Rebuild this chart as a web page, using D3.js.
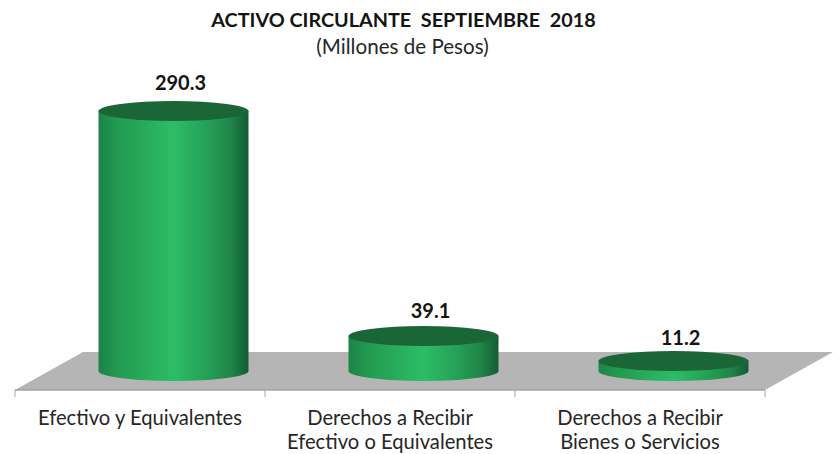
<!DOCTYPE html>
<html>
<head>
<meta charset="utf-8">
<script src="https://cdn.jsdelivr.net/npm/d3@7"></script>
<style>
  body { margin: 0; background: #fff; }
  text { font-family: Lato, "Open Sans", sans-serif; fill: #262626; }
</style>
</head>
<body>
<div class="chart"></div>
<script>
const categories = ['Efectivo y Equivalentes', 'Derechos a Recibir|Efectivo o Equivalentes', 'Derechos a Recibir|Bienes o Servicios'];
const values = [290.3, 39.1, 11.2];
const valueLabels = ['290.3', '39.1', '11.2'];
const titleLine = 'ACTIVO CIRCULANTE  SEPTIEMBRE  2018';
const subtitleLine = '(Millones de Pesos)';

const width = 839;
const height = 454;
const axisY = 390;     // front edge of the floor
const baseY = 371;     // centre of the cylinder bases
const floorBackY = 352;
const floorSkew = 68;
const ry = 10;
const labelGap = [21, 18, 16];   // excel doesn't place these evenly

const svg = d3.select('.chart')
  .append('svg')
  .attr('width', width)
  .attr('height', height);

const xScale = d3.scaleBand()
  .domain(categories)
  .range([15, 765])
  .paddingInner(0)
  .paddingOuter(0);

const yScale = d3.scaleLinear()
  .domain([0, 290.3])
  .range([baseY, 111]);

const barWidth = xScale.bandwidth() * 0.6;
const bandMid = d => xScale(d) + xScale.bandwidth() / 2;

// side shading of the cylinders
const defs = svg.append('defs');
const grad = defs.append('linearGradient').attr('id', 'side');
[[0, '#1c8349'], [0.12, '#22994f'], [0.5, '#2dbd66'], [0.72, '#25a157'], [0.88, '#1f8549'], [1, '#135c33']]
  .forEach(s => grad.append('stop').attr('offset', s[0]).attr('stop-color', s[1]));

// floor
const [x0, x1] = xScale.range();
svg.append('path')
  .attr('d', d3.line()([[x0, axisY], [x0 + floorSkew, floorBackY], [x1 + floorSkew, floorBackY], [x1, axisY]]) + 'Z')
  .attr('fill', '#b5b5b5');

// axis line and ticks at the band edges
const edges = categories.map(c => xScale(c)).concat(x1);
svg.append('line')
  .attr('x1', x0).attr('x2', x1)
  .attr('y1', axisY).attr('y2', axisY)
  .attr('stroke', '#a3a3a3').attr('stroke-width', 1.5);
svg.selectAll('.tick-mark')
  .data(edges)
  .enter()
  .append('line')
  .attr('class', 'tick-mark')
  .attr('x1', d => d).attr('x2', d => d)
  .attr('y1', axisY).attr('y2', axisY + 7)
  .attr('stroke', '#a3a3a3').attr('stroke-width', 1);

// cylinders stand in the middle of the floor depth
const bars = svg.selectAll('.bar')
  .data(categories)
  .enter()
  .append('g')
  .attr('class', 'bar')
  .attr('transform', d => `translate(${bandMid(d) + floorSkew / 2 - 0.5},0)`);

const rx = barWidth / 2;
bars.append('path')
  .attr('fill', 'url(#side)')
  .attr('d', (d, i) => {
    const top = yScale(values[i]);
    return `M${-rx},${top}L${-rx},${baseY}A${rx},${ry} 0 0 0 ${rx},${baseY}L${rx},${top}Z`;
  });

bars.append('ellipse')
  .attr('rx', rx)
  .attr('ry', ry)
  .attr('cy', (d, i) => yScale(values[i]))
  .attr('fill', '#1a6637');

bars.append('text')
  .attr('text-anchor', 'middle')
  .attr('x', 7)
  .attr('y', (d, i) => yScale(values[i]) - labelGap[i])
  .style('font-size', '20px')
  .style('font-weight', 700)
  .style('fill', '#141414')
  .text((d, i) => valueLabels[i]);

// category labels
const labels = svg.selectAll('.cat')
  .data(categories)
  .enter()
  .append('text')
  .attr('class', 'cat')
  .attr('text-anchor', 'middle')
  .style('font-size', '20.2px');

labels.selectAll('tspan')
  .data(d => d.split('|').map(t => ({ t, x: bandMid(d) })))
  .enter()
  .append('tspan')
  .attr('x', d => d.x)
  .attr('y', (d, i) => 425 + i * 24)
  .text(d => d.t);

// titles
svg.append('text')
  .attr('x', 403.5).attr('y', 27)
  .attr('text-anchor', 'middle')
  .attr('xml:space', 'preserve')
  .style('white-space', 'pre')
  .style('font-size', '19.8px')
  .style('font-weight', 700)
  .style('fill', '#141414')
  .text(titleLine);

svg.append('text')
  .attr('x', 402.5).attr('y', 54)
  .attr('text-anchor', 'middle')
  .style('font-size', '20.6px')
  .text(subtitleLine);
</script>
</body>
</html>
